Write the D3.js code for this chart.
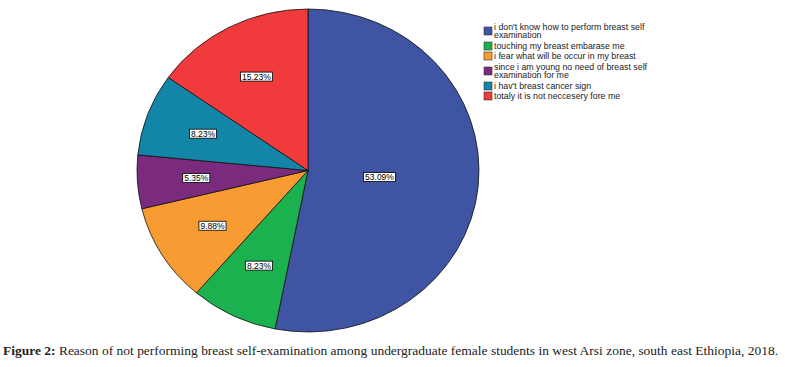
<!DOCTYPE html>
<html>
<head>
<meta charset="utf-8">
<script src="https://cdn.jsdelivr.net/npm/d3@7/dist/d3.min.js"></script>
<style>
  body { margin: 0; background: #fff; }
  svg { display: block; }
</style>
</head>
<body>
<div id="chart"></div>
<script>
// data
var reasons = [
  "i don't know how to perform breast self examination",
  "touching my breast embarase me",
  "i fear what will be occur in my breast",
  "since i am young no need of breast self examination for me",
  "i hav't breast cancer sign",
  "totaly it is not neccesery fore me"
];
var legendLines = [
  ["i don't know how to perform breast self", "examination"],
  ["touching my breast embarase me"],
  ["i fear what will be occur in my breast"],
  ["since i am young no need of breast self", "examination for me"],
  ["i hav't breast cancer sign"],
  ["totaly it is not neccesery fore me"]
];
var percents = [53.09, 8.23, 9.88, 5.35, 8.23, 15.23];
var colors = ["#3f55a3", "#1cb14f", "#f99b33", "#7a2b7e", "#1386a8", "#f03a3c"];

var width = 785, height = 367;

var svg = d3.select("#chart")
    .append("svg")
    .attr("width", width)
    .attr("height", height);

// pie is a little wider than tall in the picture
var cx = 308, cy = 170.5, rx = 171, ry = 161.5;

var data = reasons.map(function (d, i) {
  return { name: d, value: percents[i], color: colors[i] };
});

var pie = d3.pie()
    .sort(null)
    .value(function (d) { return d.value; });

var arcs = pie(data);

var g = svg.append("g")
    .attr("transform", "translate(" + cx + "," + cy + ") scale(" + (rx / ry) + ",1)");

var path = d3.arc()
    .outerRadius(ry)
    .innerRadius(0);

g.selectAll("path")
    .data(arcs)
    .enter().append("path")
    .attr("d", path)
    .attr("fill", function (d) { return d.data.color; })
    .attr("stroke", "#111")
    .attr("stroke-width", 0.8)
    .attr("vector-effect", "non-scaling-stroke");

// value labels in white boxes
var labels = svg.append("g")
    .attr("font-family", "Liberation Sans, Arial, sans-serif")
    .attr("font-size", "8.5px");

arcs.forEach(function (d) {
  var mid = (d.startAngle + d.endAngle) / 2;
  var k = d.data.value > 50 ? 0.42 : 0.655;
  var x = cx + Math.sin(mid) * rx * k;
  var y = cy - Math.cos(mid) * ry * k;
  var lab = labels.append("g").attr("transform", "translate(" + x + "," + y + ")");
  var t = lab.append("text")
      .attr("text-anchor", "middle")
      .attr("dy", "0.35em")
      .attr("fill", "#000")
      .text(d.data.value.toFixed(2) + "%");
  var w = t.node().getComputedTextLength();
  lab.insert("rect", "text")
      .attr("x", -w / 2 - 1.5)
      .attr("y", -4.5)
      .attr("width", w + 3)
      .attr("height", 9)
      .attr("fill", "#fff")
      .attr("stroke", "#000")
      .attr("stroke-width", 0.8);
});

// legend
var legend = svg.append("g")
    .attr("font-family", "Liberation Sans, Arial, sans-serif")
    .attr("font-size", "8.8px")
    .attr("fill", "#222");

var ly = 21;
legendLines.forEach(function (lines, i) {
  var h = lines.length > 1 ? 20 : 10;
  var c = ly + h / 2;
  legend.append("rect")
      .attr("x", 484)
      .attr("y", c - 4)
      .attr("width", 8)
      .attr("height", 8)
      .attr("fill", colors[i])
      .attr("stroke", "#333")
      .attr("stroke-width", 0.6);
  lines.forEach(function (s, j) {
    legend.append("text")
        .attr("x", 494)
        .attr("y", c + (j - (lines.length - 1) / 2) * 8.5)
        .attr("dy", "0.35em")
        .text(s);
  });
  ly += h;
});

// caption
var cap = svg.append("text")
    .attr("x", 3)
    .attr("y", 355)
    .attr("font-family", "Liberation Serif, Times New Roman, serif")
    .attr("font-size", "13px")
    .attr("fill", "#222");
cap.append("tspan").attr("font-weight", "bold").text("Figure 2:");
cap.append("tspan").text(" Reason of not performing breast self-examination among undergraduate female students in west Arsi zone, south east Ethiopia, 2018.");
cap.attr("textLength", 775).attr("lengthAdjust", "spacingAndGlyphs");
</script>
</body>
</html>
